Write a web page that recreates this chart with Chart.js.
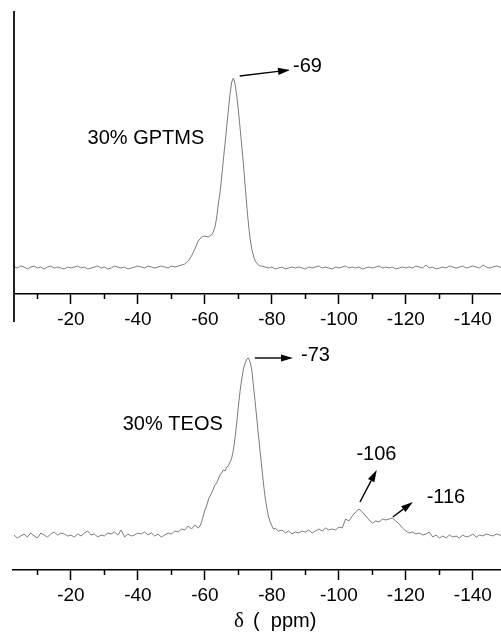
<!DOCTYPE html>
<html>
<head>
<meta charset="utf-8">
<script src="https://cdn.jsdelivr.net/npm/chart.js@4.4.1/dist/chart.umd.min.js"></script>
<style>
  html, body { margin: 0; padding: 0; background: #fff; }
  body { width: 501px; height: 635px; position: relative; overflow: hidden; }
  canvas { position: absolute; left: 0; }
  #top { top: 0; }
  #bottom { top: 335px; }
</style>
</head>
<body>
<canvas id="top" width="501" height="335"></canvas>
<canvas id="bottom" width="501" height="300"></canvas>
<script>
// ---------- data ----------
const xTickLabels = ['-20', '-40', '-60', '-80', '-100', '-120', '-140'];
const minorTickValues = [-10, -30, -50, -70, -90, -110, -130, -150];

// 30% GPTMS spectrum
const gptmsPpm = [
  -3,-4,-5,-6,-7,-8,-9,-10,-11,-12,
  -13,-14,-15,-16,-17,-18,-19,-20,-21,-22,
  -23,-24,-25,-26,-27,-28,-29,-30,-31,-32,
  -33,-34,-35,-36,-37,-38,-39,-40,-41,-42,
  -43,-44,-45,-46,-47,-48,-49,-50,-51,-52,
  -53,-54,-55,-56,-57,-58,-59,-60,-61,-62,
  -62.5,-63,-63.5,-64,-64.5,-65,-65.5,-66,-66.5,-67,
  -67.5,-68,-68.5,-69,-69.5,-70,-70.5,-71,-71.5,-72,
  -72.5,-73,-73.5,-74,-74.5,-75,-75.5,-76,-76.5,-77,
  -78,-79,-80,-81,-82,-83,-84,-85,-86,-87,
  -88,-89,-90,-91,-92,-93,-94,-95,-96,-97,
  -98,-99,-100,-101,-102,-103,-104,-105,-106,-107,
  -108,-109,-110,-111,-112,-113,-114,-115,-116,-117,
  -118,-119,-120,-121,-122,-123,-124,-125,-126,-127,
  -128,-129,-130,-131,-132,-133,-134,-135,-136,-137,
  -138,-139,-140,-141,-142,-143,-144,-145,-146,-147,
  -148,-149
];
const gptmsIntensity = [
  1,0,2,1,-1,1,2,0,1,-1,
  1,2,0,1,0,-1,1,0,1,2,
  0,1,-1,0,1,2,0,1,-1,0,
  2,1,0,1,-1,0,1,2,1,0,
  2,1,0,1,2,1,0,2,1,2,
  3,4,7,12,19,27,31,32,31,33,
  36,41,50,64,75,91,108,124,141,158,
  174,186,190,184,173,157,140,122,104,83,
  62,44,29,19,12,7,5,3,2,2,
  1,0,1,-1,0,1,-1,0,1,0,
  1,0,-1,1,0,1,2,0,1,0,
  -1,1,0,1,2,0,1,0,1,-1,
  0,1,0,1,2,0,1,0,1,-1,
  0,1,0,1,0,2,1,0,3,0,
  1,-1,0,1,0,2,1,0,1,2,
  0,1,2,1,0,3,1,0,1,2,
  1,0
];

// 30% TEOS spectrum
const teosPpm = [
  -3,-4,-5,-6,-7,-8,-9,-10,-11,-12,
  -13,-14,-15,-16,-17,-18,-19,-20,-21,-22,
  -23,-24,-25,-26,-27,-28,-29,-30,-31,-32,
  -33,-34,-35,-36,-37,-38,-39,-40,-41,-42,
  -43,-44,-45,-46,-47,-48,-49,-50,-51,-52,
  -53,-54,-55,-56,-57,-58,
  -58.5,-59,-59.5,-60,-60.5,-61,-61.5,-62,-62.5,-63,
  -63.5,-64,-64.5,-65,-65.5,-66,-66.5,-67,-67.5,-68,
  -68.5,-69,-69.5,-70,-70.5,-71,-71.5,-72,-72.5,-73,
  -73.5,-74,-74.5,-75,-75.5,-76,-76.5,-77,-77.5,-78,
  -78.5,-79,-79.5,-80,-80.5,-81,-81.5,-82,
  -83,-84,-85,-86,-87,-88,-89,-90,-91,-92,
  -93,-94,-95,-96,-97,-98,-99,-100,-101,-102,
  -103,-104,-105,-106,-107,-108,-109,-110,-111,-112,
  -113,-114,-115,-116,-117,-118,-119,-120,-121,-122,
  -123,-124,-125,-126,-127,-128,-129,-130,-131,-132,
  -133,-134,-135,-136,-137,-138,-139,-140,-141,-142,
  -143,-144,-145,-146,-147,-148,-149
];
const teosIntensity = [
  1,-2,0,2,-1,3,0,-2,3,1,
  -1,2,4,1,3,2,0,1,-1,2,
  0,3,5,1,2,-1,1,0,3,2,
  4,1,6,-1,2,0,1,3,2,4,
  1,3,0,2,-1,1,3,2,5,4,
  7,6,10,7,11,8,
  10,14,20,26,30,36,40,43,47,51,
  53,57,61,63,66,65,69,70,74,78,
  86,98,113,130,145,157,167,173,177,178,
  174,166,150,134,117,100,84,68,52,38,
  28,19,14,10,7,8,6,5,
  6,3,5,2,4,3,5,4,6,3,
  5,7,5,8,6,7,6,9,8,17,
  15,20,24,27,24,20,16,13,15,14,
  17,16,17,18,15,12,8,5,3,4,
  2,3,1,2,4,-1,1,-2,0,-2,
  1,-1,0,-2,1,-1,0,2,-1,1,
  0,2,1,0,2,1,0
];

// annotations (data coordinates: ppm, intensity)
const gptmsNotes = [
  { text: '30% GPTMS', x: -42.4, y: 130, align: 'center' },
  { text: '-69', x: -86.3, y: 202, align: 'left' }
];
const gptmsArrows = [
  { x1: -70.4, y1: 192, x2: -85.4, y2: 198 }
];
const teosNotes = [
  { text: '30% TEOS', x: -50.4, y: 112, align: 'center' },
  { text: '-73', x: -88.7, y: 181, align: 'left' },
  { text: '-106', x: -111.2, y: 82, align: 'center' },
  { text: '-116', x: -126.2, y: 39, align: 'left' }
];
const teosArrows = [
  { x1: -74.9, y1: 178, x2: -86.3, y2: 178 },
  { x1: -106.3, y1: 34, x2: -111.3, y2: 66 },
  { x1: -116.1, y1: 19, x2: -122.1, y2: 34 }
];

// ---------- drawing ----------
const SANS = '"Liberation Sans", Arial, Helvetica, sans-serif';

function drawArrow(ctx, x1, y1, x2, y2) {
  const ang = Math.atan2(y2 - y1, x2 - x1);
  const headLen = 12, headHalf = 3.6;
  const bx = x2 - headLen * Math.cos(ang), by = y2 - headLen * Math.sin(ang);
  ctx.beginPath();
  ctx.moveTo(x1, y1);
  ctx.lineTo(bx, by);
  ctx.stroke();
  ctx.beginPath();
  ctx.moveTo(x2, y2);
  ctx.lineTo(bx + headHalf * Math.sin(ang), by - headHalf * Math.cos(ang));
  ctx.lineTo(bx - headHalf * Math.sin(ang), by + headHalf * Math.cos(ang));
  ctx.closePath();
  ctx.fill();
}

function decorPlugin(notes, arrows, opts) {
  return {
    id: 'decor',
    afterDraw(chart) {
      const { ctx, chartArea: a, scales: { x, y } } = chart;
      ctx.save();
      ctx.strokeStyle = '#000';
      ctx.fillStyle = '#000';
      ctx.lineWidth = 1.5;
      // minor ticks
      minorTickValues.forEach(v => {
        if (v >= x.min && v <= x.max) {
          const px = Math.round(x.getPixelForValue(v)) + 0.5;
          ctx.beginPath();
          ctx.moveTo(px, a.bottom);
          ctx.lineTo(px, a.bottom + 5);
          ctx.stroke();
        }
      });
      // left frame line (top panel only)
      if (opts.leftLine) {
        ctx.lineWidth = 2;
        ctx.strokeStyle = '#222';
        ctx.beginPath();
        ctx.moveTo(a.left, a.top);
        ctx.lineTo(a.left, a.bottom + 28);
        ctx.stroke();
      }
      // arrows
      ctx.strokeStyle = '#000';
      ctx.lineWidth = 1.4;
      arrows.forEach(ar => drawArrow(ctx,
        x.getPixelForValue(ar.x1), y.getPixelForValue(ar.y1),
        x.getPixelForValue(ar.x2), y.getPixelForValue(ar.y2)));
      // notes
      ctx.font = '20px ' + SANS;
      ctx.textBaseline = 'middle';
      notes.forEach(n => {
        ctx.textAlign = n.align;
        ctx.fillText(n.text, x.getPixelForValue(n.x), y.getPixelForValue(n.y));
      });
      // axis title
      if (opts.title) {
        const cx = (a.left + a.right) / 2 + 17;
        const ty = chart.height - 8;
        ctx.textBaseline = 'alphabetic';
        ctx.textAlign = 'right';
        ctx.font = '21px "Liberation Serif", "Times New Roman", serif';
        ctx.fillText('δ', cx - 30, ty);
        ctx.textAlign = 'left';
        ctx.font = '20px ' + SANS;
        ctx.fillText('(  ppm)', cx - 21, ty);
      }
      ctx.restore();
    }
  };
}

function makeChart(id, ppm, vals, notes, arrows, cfg) {
  const pts = ppm.map((p, i) => ({ x: p, y: vals[i] }));
  return new Chart(document.getElementById(id), {
    type: 'line',
    data: {
      datasets: [{
        data: pts,
        borderColor: '#7c7c7c',
        borderWidth: 1,
        pointRadius: 0,
        tension: 0,
        fill: false
      }]
    },
    options: {
      responsive: false,
      animation: false,
      devicePixelRatio: 1,
      layout: { padding: { top: cfg.padTop, left: cfg.padLeft, right: 0, bottom: 0 } },
      plugins: { legend: { display: false }, tooltip: { enabled: false } },
      scales: {
        x: {
          type: 'linear',
          reverse: true,
          min: -148.4,
          max: cfg.xMax,
          afterFit: s => { s.height = cfg.axisHeight; },
          border: { display: true, color: '#000', width: 1.5 },
          grid: { display: true, drawOnChartArea: false, drawTicks: true, tickLength: 10, tickColor: '#000', tickWidth: 1.5 },
          ticks: {
            stepSize: 20,
            includeBounds: false,
            autoSkip: false,
            maxRotation: 0,
            padding: 4,
            color: '#000',
            font: { family: SANS, size: 19 },
            callback: v => {
              const lbl = String(v);
              return xTickLabels.includes(lbl) ? lbl : '';
            }
          }
        },
        y: { display: false, min: cfg.yMin, max: cfg.yMax }
      }
    },
    plugins: [decorPlugin(notes, arrows, cfg)]
  });
}

makeChart('top', gptmsPpm, gptmsIntensity, gptmsNotes, gptmsArrows,
  { padTop: 11, padLeft: 14, xMax: -3, axisHeight: 41, yMin: -26, yMax: 257, leftLine: true, title: false });
makeChart('bottom', teosPpm, teosIntensity, teosNotes, teosArrows,
  { padTop: 10, padLeft: 13, xMax: -2.7, axisHeight: 65, yMin: -34, yMax: 191, leftLine: false, title: true });
</script>
</body>
</html>
